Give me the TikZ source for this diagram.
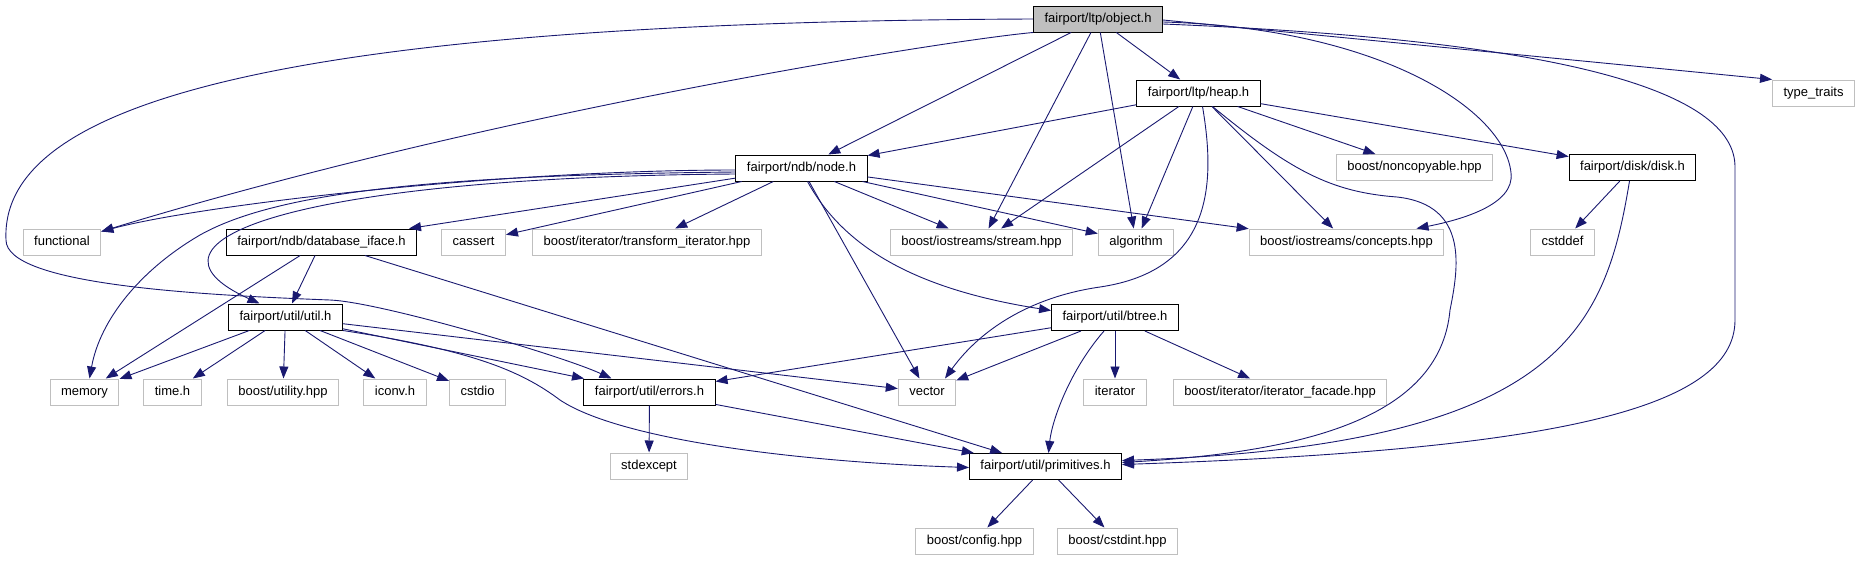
\documentclass[tikz,border=0pt]{standalone}
\usepackage{fontspec}
\setmainfont{Liberation Sans}
\usetikzlibrary{arrows.meta}
\definecolor{edgeblue}{HTML}{191970}
\definecolor{boxgrey}{HTML}{BFBFBF}
\begin{document}
\begin{tikzpicture}[x=1pt,y=-1pt,
  font=\fontsize{13}{15}\selectfont,
  every node/.style={rectangle,inner xsep=11pt,inner ysep=0pt,minimum height=26pt,
    text height=9.5pt,text depth=2.8pt,line width=1pt},
  file/.style={draw=black,fill=white},
  ext/.style={draw=boxgrey,fill=white},
  root/.style={draw=black,fill=boxgrey},
  dep/.style={draw=edgeblue,line width=0.9pt,-{Triangle[length=12pt,width=9pt]}}]
\useasboundingbox (0,0) rectangle (1860,560);

\node[root] (obj) at (1098,19) {fairport/ltp/object.h};

\node[file] (heap) at (1198.5,93) {fairport/ltp/heap.h};
\node[ext] (typetr) at (1813.5,93) {type\_traits};

\node[file] (ndbnode) at (801.5,168) {fairport/ndb/node.h};
\node[ext] (noncop) at (1414.5,167.5) {boost/noncopyable.hpp};
\node[file] (disk) at (1632.5,167.5) {fairport/disk/disk.h};

\node[ext] (functional) at (62,242) {functional};
\node[file] (dbiface) at (321.5,242) {fairport/ndb/database\_iface.h};
\node[ext] (cassert) at (473.5,242) {cassert};
\node[ext] (transit) at (647,242) {boost/iterator/transform\_iterator.hpp};
\node[ext] (stream) at (981.5,242) {boost/iostreams/stream.hpp};
\node[ext] (algorithm) at (1136,242) {algorithm};
\node[ext] (concepts) at (1346.5,242) {boost/iostreams/concepts.hpp};
\node[ext] (cstddef) at (1562.5,242) {cstddef};

\node[file] (util) at (285.5,317) {fairport/util/util.h};
\node[file] (btree) at (1115,317.5) {fairport/util/btree.h};

\node[ext] (memory) at (84.5,392) {memory};
\node[ext] (timeh) at (172.5,392) {time.h};
\node[ext] (utility) at (283,392) {boost/utility.hpp};
\node[ext] (iconv) at (395,392) {iconv.h};
\node[ext] (cstdio) at (477.5,392) {cstdio};
\node[file] (errors) at (649.5,392) {fairport/util/errors.h};
\node[ext] (vector) at (927,392) {vector};
\node[ext] (iterator) at (1115,392) {iterator};
\node[ext] (facade) at (1280,392) {boost/iterator/iterator\_facade.hpp};

\node[ext] (stdexcept) at (649,466) {stdexcept};
\node[file] (prims) at (1045.5,466.5) {fairport/util/primitives.h};

\node[ext] (config) at (974.5,541) {boost/config.hpp};
\node[ext] (cstdint) at (1117.5,541) {boost/cstdint.hpp};

\draw[dep] (obj) -- (ndbnode);
\draw[dep] (obj) -- (heap);
\draw[dep] (obj) -- (stream);
\draw[dep] (obj) -- (algorithm);
\draw[dep] ([yshift=-1pt]obj.east) -- (typetr.north west);
\draw[dep] (obj.south west) .. controls (950,40) and (500,110) .. ([yshift=-3pt]functional.north east);
\draw[dep] (obj.west) .. controls (250,22) and (0,110) .. (6,240)
  .. controls (6,285) and (200,295) .. (330,300)
  .. controls (380,302) and (560,355) .. ([xshift=-38pt]errors.north);
\draw[dep] ([yshift=-3pt]obj.east) .. controls (1380,28) and (1505,110) .. (1511,173)
  .. controls (1515,205) and (1460,220) .. ([xshift=70pt]concepts.north);
\draw[dep] ([yshift=-5pt]obj.east) .. controls (1560,40) and (1735,90) .. (1735,167) -- (1735,320)
  .. controls (1735,410) and (1550,450) .. ([yshift=2pt]prims.east);

\draw[dep] (heap) -- (ndbnode);
\draw[dep] (heap) -- (stream);
\draw[dep] (heap) -- (algorithm);
\draw[dep] (heap) -- (concepts);
\draw[dep] (heap) -- (noncop);
\draw[dep] (heap) -- (disk);
\draw[dep] ([xshift=4pt]heap.south) .. controls (1215,180) and (1215,270) .. (1100,287)
  .. controls (1030,297) and (980,330) .. ([xshift=18pt]vector.north);
\draw[dep] ([xshift=14pt]heap.south) .. controls (1290,170) and (1330,192) .. (1397,197)
  .. controls (1470,205) and (1458,270) .. (1450,310)
  .. controls (1440,420) and (1300,452) .. ([yshift=4pt]prims.east);

\draw[dep] (disk) -- (cstddef);
\draw[dep] ([xshift=-3pt]disk.south) .. controls (1605,330) and (1560,445) .. ([yshift=6pt]prims.east);

\draw[dep] ([yshift=-2pt]ndbnode.west) .. controls (500,170) and (200,205) .. ([yshift=-3pt]functional.north east);
\draw[dep] ([yshift=-4pt]ndbnode.west) .. controls (450,175) and (280,190) .. (200,235)
  .. controls (140,270) and (100,320) .. ([xshift=5pt]memory.north);
\draw[dep] ([yshift=-6pt]ndbnode.west) .. controls (300,177) and (120,240) .. ([xshift=-26pt]util.north);
\draw[dep] (ndbnode) -- (dbiface);
\draw[dep] (ndbnode) -- (cassert);
\draw[dep] (ndbnode) -- (transit);
\draw[dep] (ndbnode) -- (stream);
\draw[dep] (ndbnode) -- (algorithm);
\draw[dep] (ndbnode) -- (concepts);
\draw[dep] (ndbnode) -- (vector);
\draw[dep] ([xshift=6pt]ndbnode.south) .. controls (845,250) and (920,290) .. ([yshift=7pt]btree.west);

\draw[dep] (dbiface) -- (memory);
\draw[dep] (dbiface) -- (util);
\draw[dep] (dbiface) -- (prims);

\draw[dep] (util) -- (memory);
\draw[dep] (util) -- (timeh);
\draw[dep] (util) -- (utility);
\draw[dep] (util) -- (iconv);
\draw[dep] (util) -- (cstdio);
\draw[dep] (util) -- (errors);
\draw[dep] (util) -- (vector);
\draw[dep] (util.south east) .. controls (470,350) and (520,370) .. (560,400)
  .. controls (620,440) and (800,462) .. ([yshift=-1pt]prims.west);

\draw[dep] (btree) -- (errors);
\draw[dep] (btree) -- (vector);
\draw[dep] (btree) -- (iterator);
\draw[dep] (btree) -- (facade);
\draw[dep] ([xshift=-11pt]btree.south) .. controls (1070,370) and (1052,420) .. ([xshift=3pt]prims.north);

\draw[dep] (errors) -- (stdexcept);
\draw[dep] (errors) -- (prims);

\draw[dep] (prims) -- (config);
\draw[dep] (prims) -- (cstdint);
\end{tikzpicture}
\end{document}
